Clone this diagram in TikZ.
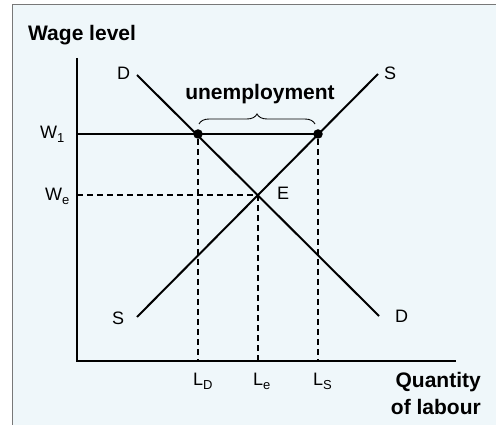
\documentclass[tikz,border=0pt]{standalone}
\usepackage{fontspec}
\setmainfont{Liberation Sans}
\usetikzlibrary{decorations.pathreplacing}
\definecolor{panel}{RGB}{239,247,250}
\definecolor{frame}{RGB}{120,120,120}
\tikzset{
  lbl/.style={font=\fontsize{18}{18}\selectfont, inner sep=0pt, anchor=base west},
  bold/.style={font=\fontsize{21}{27}\selectfont\bfseries, inner sep=0pt},
  curve/.style={line width=2pt},
  axis/.style={line width=2.5pt},
  guide/.style={line width=1.6pt, dash pattern=on 6pt off 4pt},
  dot/.style={circle, fill=black, minimum size=9.5pt, inner sep=0pt}
}
\newcommand{\subl}[1]{\raisebox{-4pt}{\fontsize{13}{13}\selectfont #1}}
\begin{document}
\begin{tikzpicture}[x=1pt,y=-1pt]
\useasboundingbox (0,0) rectangle (496,425);
\draw[frame, fill=panel, line width=1pt] (12,5) rectangle (500,430);
% coordinates
\coordinate (O) at (77,361);
\coordinate (ytop) at (77,58);
\coordinate (xend) at (456,361);
\coordinate (D1) at (137,75);
\coordinate (D2) at (379,316);
\coordinate (S1) at (137,317);
\coordinate (S2) at (378,74);
\coordinate (W1s) at (77,134);
\coordinate (Wes) at (77,195);
\coordinate (E) at (258,195);
\coordinate (LD) at (198,361);
\coordinate (Le) at (258,361);
\coordinate (LS) at (318,361);
\node[dot] (A) at (198,134) {};
\node[dot] (B) at (318,134) {};
% guides
\draw[guide] (A) -- (LD);
\draw[guide] (B) -- (LS);
\draw[guide] (E) -- (Le);
\draw[guide] (Wes) -- (E);
% W1 line
\draw[line width=1.4pt] (W1s) -- (B.center);
% curves
\draw[curve] (D1) -- (D2);
\draw[curve] (S1) -- (S2);
% axes
\draw[axis] (ytop) -- (O) -- (xend);
% brace
\draw[line width=0.9pt, decorate, decoration={brace, amplitude=10pt}] (199,124) -- (315,124);
% labels
\node[bold, anchor=base west] (wl) at (28,41) {Wage level};
\node[bold, anchor=base] (un) at (260,100) {unemployment};
\node[lbl] (dtop) at (117,80) {D};
\node[lbl] (stop) at (384,80) {S};
\node[lbl] (sbot) at (112,324) {S};
\node[lbl] (dbot) at (395,322) {D};
\node[lbl] (el) at (277,200) {E};
\node[lbl] (w1) at (40,139) {W\subl{1}};
\node[lbl] (we) at (45,201) {W\subl{e}};
\node[lbl] (ld) at (193,385) {L\subl{D}};
\node[lbl] (le) at (253,385) {L\subl{e}};
\node[lbl] (ls) at (313,385) {L\subl{S}};
\node[bold, align=right, anchor=base east] (q) at (481,414) {Quantity\\of labour};
\end{tikzpicture}
\end{document}
